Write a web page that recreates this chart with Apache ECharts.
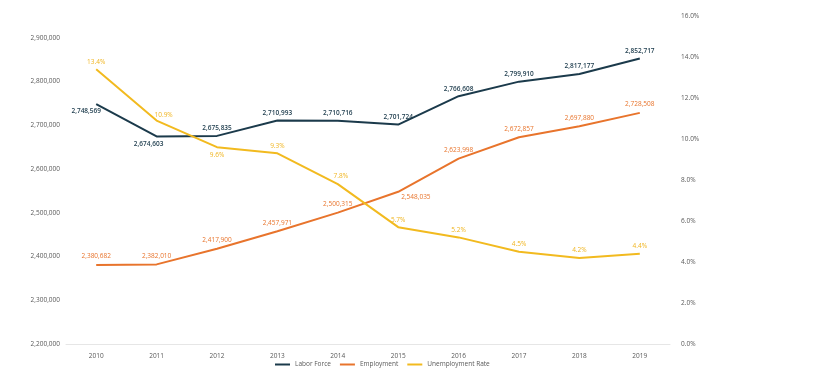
<!DOCTYPE html>
<html><head><meta charset="utf-8">
<script src="https://cdn.jsdelivr.net/npm/echarts@6/dist/echarts.min.js"></script>
<style>html,body{margin:0;padding:0;background:#fff}#c{width:836px;height:386px}</style>
</head><body><div id="c"></div>
<script>
var years = ['2010','2011','2012','2013','2014','2015','2016','2017','2018','2019'];
var laborForce = [2748569, 2674603, 2675835, 2710993, 2710716, 2701724, 2766608, 2799910, 2817177, 2852717];
var employment = [2380682, 2382010, 2417900, 2457971, 2500315, 2548035, 2623998, 2672857, 2697880, 2728508];
var unemploymentRate = [13.4, 10.9, 9.6, 9.3, 7.8, 5.7, 5.2, 4.5, 4.2, 4.4];

var lfPos = ['bottom','bottom','top','top','top','top','top','top','top','top'];
var emPos = ['top','top','top','top','top','right','top','top','top','top'];
var urPos = ['top','top','bottom','top','top','top','top','top','top','top'];

var FONT = '"Open Sans", "Liberation Sans", sans-serif';
function fmtNum(v){ return Number(v).toLocaleString('en-US'); }

function mk(vals, pos, extra){
  return vals.map(function(v,i){
    var lab = {position: pos[i]};
    if (extra && extra[i]) Object.assign(lab, extra[i]);
    return {value: v, label: lab};
  });
}

var chart = echarts.init(document.getElementById('c'));
chart.setOption({
  animation: false,
  textStyle: {fontFamily: FONT},
  grid: {left: 66, right: 166, top: 16, bottom: 42},
  legend: {
    bottom: 13, left: 270, itemWidth: 15, itemHeight: 2, itemGap: 9,
    icon: 'rect',
    textStyle: {fontSize: 6.5, color: '#595959', fontFamily: FONT},
    data: ['Labor Force','Employment','Unemployment Rate']
  },
  xAxis: {
    type: 'category', data: years, boundaryGap: true,
    axisLine: {lineStyle: {color: '#e6e6e6', width: 1}},
    axisTick: {show: false},
    axisLabel: {fontSize: 6.5, color: '#595959', margin: 9}
  },
  yAxis: [{
    type: 'value', min: 2200000, max: 2950000, interval: 100000,
    axisLine: {show: false}, axisTick: {show: false}, splitLine: {show: false},
    axisLabel: {fontSize: 6.5, color: '#595959', margin: 6, showMaxLabel: false,
      formatter: function(v){ return fmtNum(v); }}
  },{
    type: 'value', min: 0, max: 16, interval: 2, position: 'right',
    axisLine: {show: false}, axisTick: {show: false}, splitLine: {show: false},
    axisLabel: {fontSize: 6.5, color: '#595959', margin: 11,
      formatter: function(v){ return v.toFixed(1) + '%'; }}
  }],
  series: [{
    name: 'Labor Force', type: 'line', yAxisIndex: 0,
    data: mk(laborForce, lfPos, {0: {offset: [-10, 0]}, 1: {offset: [-8, 0]}}),
    symbol: 'circle', symbolSize: 0, showSymbol: true,
    lineStyle: {width: 2, color: '#1b3a4b'}, itemStyle: {color: '#1b3a4b'},
    label: {show: true, fontSize: 6.5, color: '#1b3a4b', fontWeight: 600, distance: 4,
      formatter: function(p){ return fmtNum(p.value); }}
  },{
    name: 'Employment', type: 'line', yAxisIndex: 0,
    data: mk(employment, emPos, {5: {offset: [-2, 5]}}),
    symbol: 'circle', symbolSize: 0, showSymbol: true,
    lineStyle: {width: 2, color: '#e8742c'}, itemStyle: {color: '#e8742c'},
    label: {show: true, fontSize: 6.5, color: '#e8742c', distance: 5,
      formatter: function(p){ return fmtNum(p.value); }}
  },{
    name: 'Unemployment Rate', type: 'line', yAxisIndex: 1,
    data: mk(unemploymentRate, urPos, {1: {offset: [7, 2]}, 4: {offset: [3, 0]}}),
    symbol: 'circle', symbolSize: 0, showSymbol: true,
    lineStyle: {width: 2, color: '#f2ba1f'}, itemStyle: {color: '#f2ba1f'},
    label: {show: true, fontSize: 6.5, color: '#f0b520', distance: 4,
      formatter: function(p){ return p.value.toFixed(1) + '%'; }}
  }]
});
</script></body></html>
